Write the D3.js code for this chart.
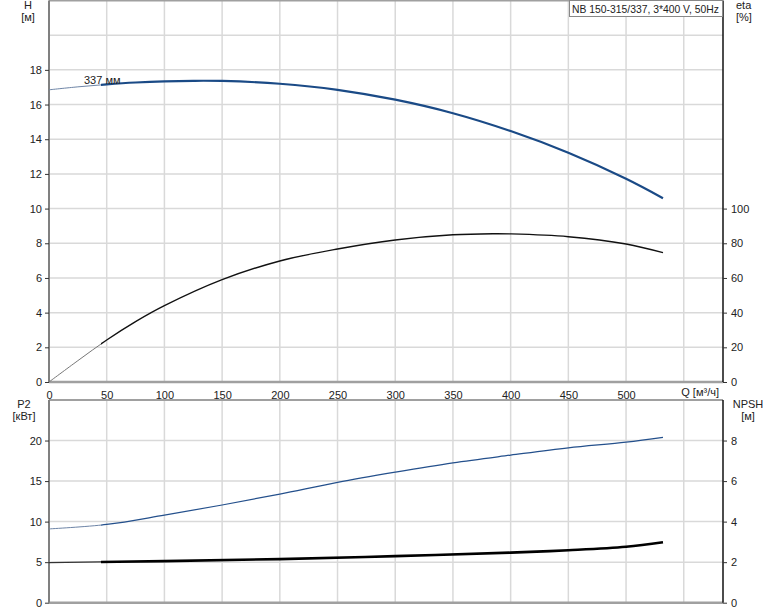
<!DOCTYPE html>
<html><head><meta charset="utf-8">
<script src="https://cdn.jsdelivr.net/npm/d3@7"></script>
<style>
body{margin:0;background:#fff;}
svg{display:block;font-family:"Liberation Sans",Arial,sans-serif;}
text{fill:#222;font-size:11px;}
</style></head><body>
<svg id="c" width="774" height="611"></svg>
<script>
// ---- data ----
const qTicks = [0,50,100,150,200,250,300,350,400,450,500];
const qGrid = [50,100,150,200,250,300,350,400,450,500,550];
const hTicks = [0,2,4,6,8,10,12,14,16,18];
const hGrid = [2,4,6,8,10,12,14,16,18,20];
const etaTicks = [0,20,40,60,80,100];
const p2Ticks = [0,5,10,15,20];
const p2Grid = [5,10,15,20];
const npshTicks = [0,2,4,6,8];

const qH = [0,25,50,75,100,125,150,200,250,300,350,400,450,500,532];
const hVals = [16.85,17.02,17.16,17.27,17.34,17.37,17.36,17.2,16.85,16.28,15.5,14.47,13.22,11.72,10.6];

const qEta = [0,25,50,75,100,150,200,250,300,350,385,400,450,500,532];
const etaVals = [0,12.3,24.2,34.8,44.0,59.0,69.8,76.7,81.9,84.9,85.5,85.4,83.8,79.6,74.6];

const qP2 = [0,50,100,150,200,250,300,350,400,450,500,532];
const p2Vals = [9.1,9.65,10.8,12.05,13.4,14.85,16.1,17.25,18.2,19.1,19.8,20.4];

const qNpsh = [0,100,200,300,400,450,500,532];
const npshVals = [1.98,2.05,2.15,2.3,2.47,2.59,2.76,2.98];

const curveLabel = "337 мм";
const title = "NB 150-315/337, 3*400 V, 50Hz";

// ---- layout ----
const svg = d3.select("#c");
const L = 49, R = 723;
const topT = 0.5, topB = 382, botT = 400, botB = 602.7;

const x = d3.scaleLinear().domain([0,584]).range([L,R]);
const yH = d3.scaleLinear().domain([0,22]).range([topB,topT]);
const yEta = d3.scaleLinear().domain([0,220]).range([topB,topT]);
const yP = d3.scaleLinear().domain([0,25]).range([botB,botT]);
const yN = d3.scaleLinear().domain([0,10]).range([botB,botT]);

const gridCol = "#d9d9d9";

function grid(yScale, vals, t, b){
  const g = svg.append("g");
  g.selectAll("line.v").data(qGrid).join("line")
    .attr("x1",d=>x(d)).attr("x2",d=>x(d)).attr("y1",t).attr("y2",b)
    .attr("stroke",gridCol).attr("stroke-width",1.5);
  g.selectAll("line.h").data(vals).join("line")
    .attr("x1",L).attr("x2",R).attr("y1",d=>yScale(d)).attr("y2",d=>yScale(d))
    .attr("stroke",gridCol).attr("stroke-width",1.5);
}
grid(yH, hGrid, topT, topB);
grid(yP, p2Grid, botT, botB);

// frames
function frame(t,b){
  svg.append("line").attr("x1",L).attr("x2",R).attr("y1",t).attr("y2",t).attr("stroke","#a0a0a0").attr("stroke-width",2);
  svg.append("line").attr("x1",L).attr("x2",R).attr("y1",b).attr("y2",b).attr("stroke","#a0a0a0").attr("stroke-width",2.5);
  svg.append("line").attr("x1",L).attr("x2",L).attr("y1",t).attr("y2",b).attr("stroke","#808080").attr("stroke-width",2);
  svg.append("line").attr("x1",R).attr("x2",R).attr("y1",t).attr("y2",b).attr("stroke","#111").attr("stroke-width",1.5);
}
frame(topT, topB);
frame(botT, botB);

function styleText(g){
  g.selectAll("text").attr("font-size",11).attr("font-family","Liberation Sans, Arial, sans-serif").attr("fill","#222");
}
function leftAxis(scale, vals){
  const g = svg.append("g").attr("transform",`translate(${L},0)`)
    .call(d3.axisLeft(scale).tickValues(vals).tickSize(4).tickPadding(3).tickFormat(d3.format("d")));
  g.select(".domain").remove();
  g.selectAll("line").attr("stroke","#333");
  styleText(g);
}
function rightAxis(scale, vals){
  const g = svg.append("g").attr("transform",`translate(${R},0)`)
    .call(d3.axisRight(scale).tickValues(vals).tickSize(4).tickPadding(4).tickFormat(d3.format("d")));
  g.select(".domain").remove();
  g.selectAll("line").attr("stroke","#333");
  styleText(g);
}
leftAxis(yH, hTicks);
rightAxis(yEta, etaTicks);
leftAxis(yP, p2Ticks);
rightAxis(yN, npshTicks);

const xg = svg.append("g").attr("transform",`translate(0,${topB})`)
  .call(d3.axisBottom(x).tickValues(qTicks).tickSize(0).tickPadding(9).tickFormat(d3.format("d")));
xg.select(".domain").remove();
styleText(xg);
svg.append("text").attr("x",719).attr("y",396).attr("text-anchor","end").text("Q [м³/ч]");

// axis titles
svg.append("text").attr("x",28).attr("y",9).attr("text-anchor","middle").text("H");
svg.append("text").attr("x",28).attr("y",21).attr("text-anchor","middle").text("[м]");
svg.append("text").attr("x",736).attr("y",9).text("eta");
svg.append("text").attr("x",736).attr("y",21).text("[%]");
svg.append("text").attr("x",24).attr("y",408).attr("text-anchor","middle").text("P2");
svg.append("text").attr("x",24).attr("y",420).attr("text-anchor","middle").text("[кВт]");
svg.append("text").attr("x",748).attr("y",408).attr("text-anchor","middle").text("NPSH");
svg.append("text").attr("x",748).attr("y",420).attr("text-anchor","middle").text("[м]");

// title box
svg.append("rect").attr("x",569.5).attr("y",0.5).attr("width",153).attr("height",16)
  .attr("fill","#fff").attr("stroke","#888").attr("stroke-width",1);
svg.append("text").attr("x",572).attr("y",12.5)
  .attr("textLength",147).attr("lengthAdjust","spacingAndGlyphs").text(title);

// clip for thin / thick parts
svg.append("clipPath").attr("id","thick").append("rect")
  .attr("x",x(45)).attr("y",0).attr("width",R-x(45)).attr("height",611);
svg.append("clipPath").attr("id","thin").append("rect")
  .attr("x",0).attr("y",0).attr("width",x(45)).attr("height",611);

function curve(qs, vs, yScale, color, thinW, thickW, thinColor){
  const data = qs.map((q,i)=>[q,vs[i]]);
  const line = d3.line().x(d=>x(d[0])).y(d=>yScale(d[1])).curve(d3.curveCatmullRom.alpha(0.5));
  svg.append("path").attr("d",line(data)).attr("fill","none")
    .attr("stroke",thinColor).attr("stroke-width",thinW).attr("clip-path","url(#thin)");
  svg.append("path").attr("d",line(data)).attr("fill","none")
    .attr("stroke",color).attr("stroke-width",thickW).attr("clip-path","url(#thick)");
}
curve(qH, hVals, yH, "#1a4a86", 1, 2.2, "#6d84a6");
curve(qEta, etaVals, yEta, "#111", 1, 1.4, "#777");
curve(qP2, p2Vals, yP, "#24508c", 1, 1.2, "#6d84a6");
curve(qNpsh, npshVals, yN, "#000", 1.2, 2.6, "#333");

svg.append("text").attr("x",84).attr("y",84).text(curveLabel);
</script>
</body></html>
